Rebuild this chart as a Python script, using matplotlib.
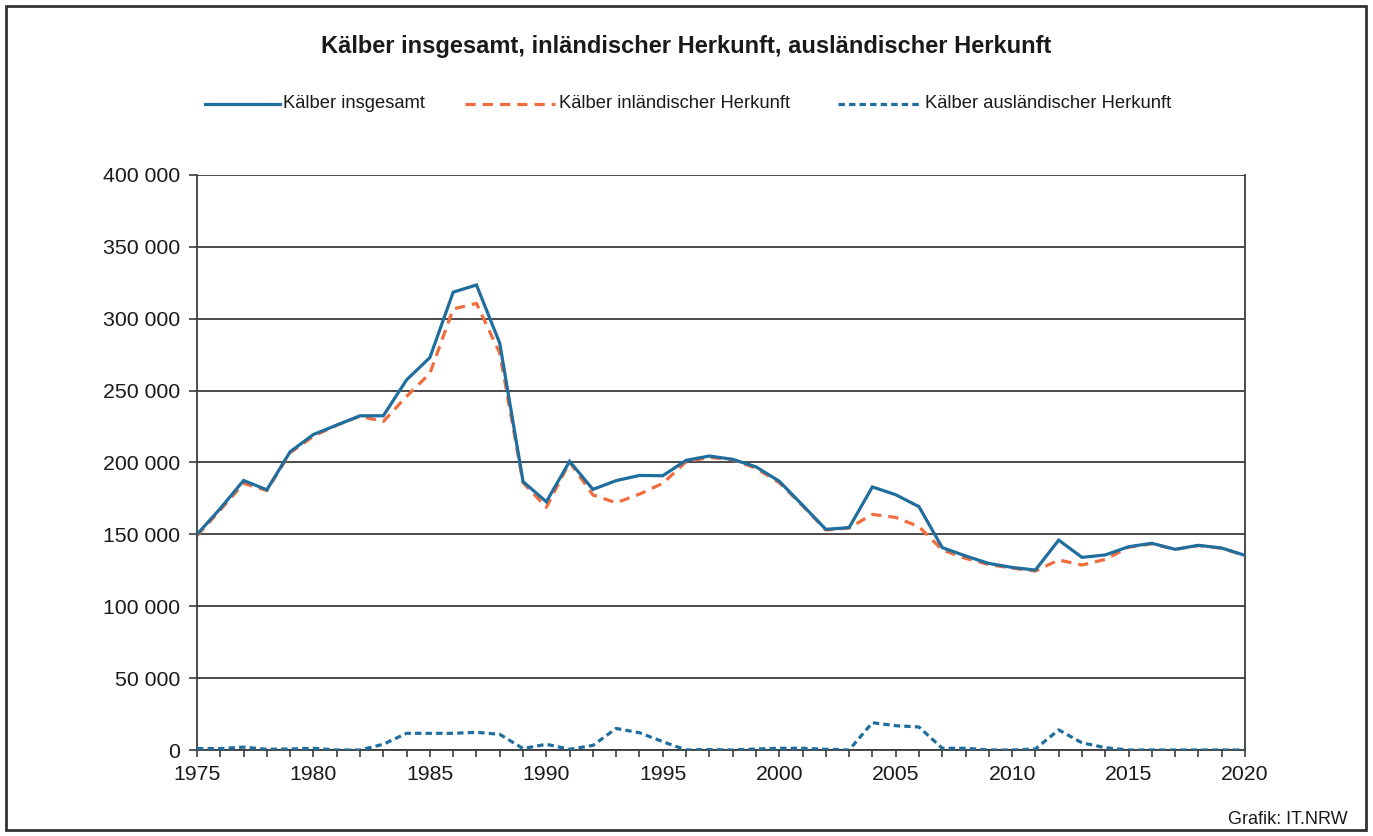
import matplotlib
matplotlib.use("Agg")
import matplotlib.pyplot as plt
from matplotlib.lines import Line2D
from matplotlib.patches import Rectangle
from matplotlib.ticker import FuncFormatter, MultipleLocator

plt.rcParams['font.family'] = ['Liberation Sans', 'DejaVu Sans']

years = list(range(1975, 2021))
total = [150000, 168000, 187500, 181000, 207500, 219500, 226000, 232500, 232500, 257500,
         273000, 318500, 323500, 283000, 186700, 172700, 200800, 181300, 187400, 191000,
         190800, 201500, 204500, 202200, 197000, 187000, 170400, 153500, 154700, 183000,
         177600, 169300, 140800, 135000, 129800, 127000, 125200, 146000, 134000, 135700,
         141400, 143800, 139600, 142400, 140500, 135400]
domestic = [149000, 167000, 185500, 180500, 206800, 218300, 226000, 232200, 228500, 246000,
            262000, 306800, 310700, 276000, 186000, 168800, 200300, 177400, 172000, 178000,
            185500, 200500, 203600, 202000, 196000, 186000, 170000, 153000, 154500, 163900,
            161800, 155400, 139200, 133300, 129000, 126500, 124500, 132200, 128700, 132600,
            141000, 143500, 139500, 142200, 140300, 135300]
foreign = [1000, 1000, 2000, 500, 700, 1200, 0, 0, 4000, 11600,
           11600, 11600, 12300, 10900, 1000, 4000, 500, 3200, 15000, 12000,
           5800, 0, 300, 0, 700, 1200, 1200, 500, 0, 19000,
           16900, 16000, 1200, 1200, 0, 0, 700, 14000, 5000, 1600,
           0, 0, 0, 0, 0, 0]

labels = ["Kälber insgesamt", "Kälber inländischer Herkunft", "Kälber ausländischer Herkunft"]
title = "Kälber insgesamt, inländischer Herkunft, ausländischer Herkunft"

blue = "#1f6e9e"
orange = "#f26d3d"
grid = "#3c3c3c"

W, H = 1373, 836
fig = plt.figure(figsize=(W / 100, H / 100), dpi=100)

# outer frame
fig.add_artist(Rectangle((6 / W, 6 / H), (1366 - 6) / W, (830 - 6) / H,
                         transform=fig.transFigure, fill=False,
                         edgecolor="#333333", linewidth=2.0))

ax = fig.add_axes([197 / W, 1 - 750 / H, (1245 - 197) / W, (750 - 175) / H])

ax.plot(years, foreign, color=blue, linewidth=2.3, dashes=(2.0, 1.3), zorder=3)
ax.plot(years, domestic, color=orange, linewidth=2.3, dashes=(3.2, 2.2), zorder=4)
ax.plot(years, total, color=blue, linewidth=2.3, zorder=5, solid_joinstyle='miter')

ax.set_xlim(1975, 2020)
ax.set_ylim(0, 400000)
ax.xaxis.set_major_locator(MultipleLocator(5))
ax.xaxis.set_minor_locator(MultipleLocator(1))
ax.yaxis.set_major_locator(MultipleLocator(50000))
ax.yaxis.set_major_formatter(FuncFormatter(lambda v, p: f"{int(v):,}".replace(",", " ")))

ax.grid(axis='y', color=grid, linewidth=1.3)
ax.set_axisbelow(True)
for s in ['left', 'bottom', 'right']:
    ax.spines[s].set_color(grid)
    ax.spines[s].set_linewidth(1.3)
ax.spines['top'].set_visible(False)

ax.tick_params(axis='x', which='both', direction='out', length=5, width=1.2, color=grid,
               labelsize=15.3, pad=6, labelcolor="#1a1a1a")
ax.tick_params(axis='y', which='major', direction='out', length=6, width=1.2, color=grid,
               labelsize=15.3, pad=6, labelcolor="#1a1a1a")

fig.text(686 / W, 1 - 47 / H, title, ha='center', va='center', fontsize=17,
         fontweight='bold', color="#1a1a1a")

# legend
ly = 1 - 104 / H
entries = [
    (205, 280, 283, labels[0], dict(color=blue, linewidth=2.3)),
    (465, 555, 559, labels[1], dict(color=orange, linewidth=2.3, dashes=(3.2, 2.2))),
    (838, 922, 925, labels[2], dict(color=blue, linewidth=2.3, dashes=(2.0, 1.3))),
]
for x0, x1, xt, lab, kw in entries:
    fig.add_artist(Line2D([x0 / W, x1 / W], [ly, ly], transform=fig.transFigure, **kw))
    fig.text(xt / W, ly, lab, ha='left', va='center', fontsize=13.2, color="#1a1a1a")

fig.text(1348 / W, 1 - 820 / H, "Grafik: IT.NRW", ha='right', va='center',
         fontsize=13, color="#1a1a1a")

fig.savefig("out.png", dpi=100)
